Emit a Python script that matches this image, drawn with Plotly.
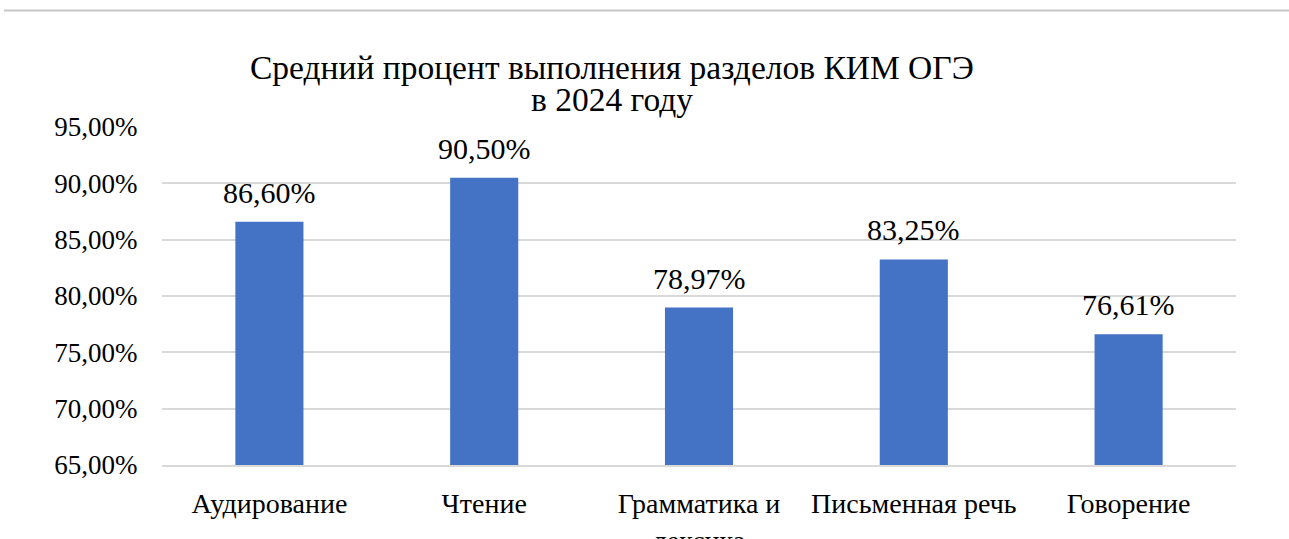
import plotly.graph_objects as go

categories = ["Аудирование", "Чтение", "Грамматика и лексика", "Письменная речь", "Говорение"]
category_labels = ["Аудирование", "Чтение", "Грамматика и<br>лексика", "Письменная речь", "Говорение"]
values = [86.60, 90.50, 78.97, 83.25, 76.61]
value_labels = ["86,60%", "90,50%", "78,97%", "83,25%", "76,61%"]
y_ticks = [65, 70, 75, 80, 85, 90, 95]
y_tick_labels = ["65,00%", "70,00%", "75,00%", "80,00%", "85,00%", "90,00%", "95,00%"]
title_lines = ["Средний процент выполнения разделов КИМ ОГЭ", "в 2024 году"]

FONT = "Liberation Serif"
W, H = 1289, 539
L, R, T, B = 162, 53, 127, 74
plot_h = H - T - B
plot_w = W - L - R


def px_to_paper_y(ypx):
    return (H - B - ypx) / plot_h


def px_to_paper_x(xpx):
    return (xpx - L) / plot_w


fig = go.Figure()
fig.add_trace(go.Bar(
    x=categories, y=values,
    marker=dict(color="#4472C4", line=dict(width=0)),
    width=0.317,
    hoverinfo="skip",
))

for c, v, t in zip(categories, values, value_labels):
    fig.add_annotation(x=c, y=v, text=t, showarrow=False, yanchor="bottom",
                       yshift=11, font=dict(family=FONT, size=30, color="#000000"))

# title (two lines, tight line spacing as in the reference)
for line, ypx in zip(title_lines, [67, 100]):
    fig.add_annotation(xref="paper", yref="paper", x=px_to_paper_x(611.5), y=px_to_paper_y(ypx),
                       xanchor="center", yanchor="middle", showarrow=False, text=line,
                       font=dict(family=FONT, size=33.5, color="#000000"))

fig.add_shape(type="line", xref="paper", yref="paper",
              x0=px_to_paper_x(4), x1=px_to_paper_x(W),
              y0=px_to_paper_y(10.5), y1=px_to_paper_y(10.5),
              line=dict(color="#C8C8C8", width=2))

fig.update_layout(
    width=W, height=H,
    margin=dict(l=L, r=R, t=T, b=B, autoexpand=False),
    paper_bgcolor="white", plot_bgcolor="white",
    showlegend=False,
    font=dict(family=FONT, color="#000000"),
    bargap=0.683,
)
fig.update_xaxes(
    tickvals=categories, ticktext=category_labels,
    tickfont=dict(family=FONT, size=28, color="#000000"),
    showgrid=False, showline=True, linecolor="#D9D9D9", linewidth=1.5,
    ticks="outside", ticklen=13, tickcolor="rgba(0,0,0,0)",
    fixedrange=True,
)
fig.update_yaxes(
    range=[65, 95], tickvals=y_ticks, ticktext=y_tick_labels,
    tickfont=dict(family=FONT, size=27, color="#000000"),
    showgrid=True, gridcolor="#D9D9D9", gridwidth=1.5,
    zeroline=False, showline=False,
    ticks="outside", ticklen=18, tickcolor="rgba(0,0,0,0)",
    fixedrange=True,
)

fig.write_html("out.html", config={"displayModeBar": False},
               post_script="document.body.style.margin='0px';document.body.style.overflow='hidden';")
